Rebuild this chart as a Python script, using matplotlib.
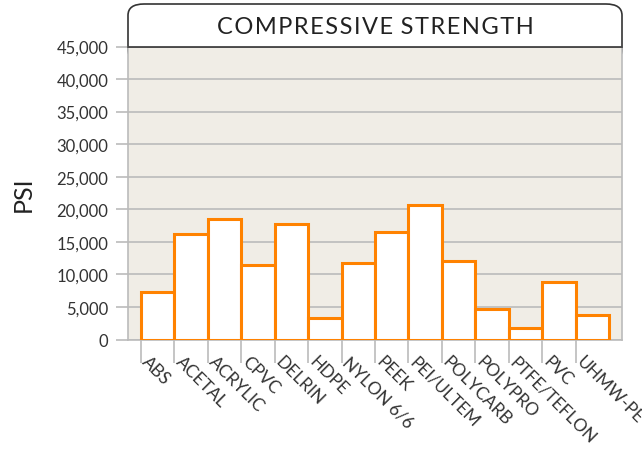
import matplotlib
matplotlib.use('Agg')
import matplotlib.pyplot as plt
from matplotlib.patches import FancyBboxPatch
import numpy as np

# Данные графика
materials = ['ABS', 'ACETAL', 'ACRYLIC', 'CPVC', 'DELRIN', 'HDPE', 'NYLON 6/6',
             'PEEK', 'PEI/ULTEM', 'POLYCARB', 'POLYPRO', 'PTFE/TEFLON', 'PVC', 'UHMW-PE']
psi = [7300, 16200, 18500, 11500, 17700, 3300, 11800,
       16500, 20700, 12100, 4700, 1750, 8800, 3800]
y_ticks = list(range(0, 45001, 5000))

plt.rcParams['font.family'] = ['Lato', 'DejaVu Sans']

fig = plt.figure(figsize=(6.42, 4.52), dpi=100)
ax = fig.add_axes([128 / 642, 1 - 340.5 / 452, 494 / 642, 293 / 452])
ax.set_zorder(2)

# Заголовок в рамке со скруглёнными углами
box = FancyBboxPatch((128 / 642, 1 - 62 / 452), 494 / 642, 57 / 452,
                     boxstyle='round,pad=0,rounding_size=0.025',
                     transform=fig.transFigure, facecolor='white',
                     edgecolor='#333333', linewidth=1.2, zorder=1)
fig.add_artist(box)
title = '\u200a'.join('COMPRESSIVE') + ' \u200a' + '\u200a'.join('STRENGTH')
fig.text(375 / 642, 1 - 27 / 452, title,
         ha='center', va='center', fontsize=17, color='#222222', zorder=3)

x = np.arange(len(materials))
ax.bar(x, psi, width=1.0, align='edge', color='white', edgecolor='#FF8200',
       linewidth=2.2, zorder=3)

ax.set_facecolor('#F0EDE6')
ax.set_xlim(-0.39, len(materials) + 0.39)
ax.set_ylim(0, 45000)
ax.set_yticks(y_ticks)
ax.set_yticklabels([f'{v:,}' for v in y_ticks], fontsize=12, color='#333333')
ax.grid(axis='y', color='#BBBBBB', linewidth=1.2, zorder=0)
ax.set_axisbelow(True)

ax.set_xticks(x)
ax.set_xticklabels(materials, rotation=-45, ha='left', va='baseline',
                   rotation_mode='anchor', fontsize=12.5, color='#333333')
ax.tick_params(axis='x', length=16.5, color='#BBBBBB', width=1.2, pad=0)
ax.tick_params(axis='y', length=9, color='#BBBBBB', width=1.2, pad=5)

for side in ['left', 'right', 'bottom']:
    ax.spines[side].set_color('#BBBBBB')
    ax.spines[side].set_linewidth(1.2)
ax.spines['top'].set_color('#333333')
ax.spines['top'].set_linewidth(1.2)

ax.set_ylabel('PSI', fontsize=18, color='#222222', labelpad=16)

fig.savefig('out.png', dpi=100)
